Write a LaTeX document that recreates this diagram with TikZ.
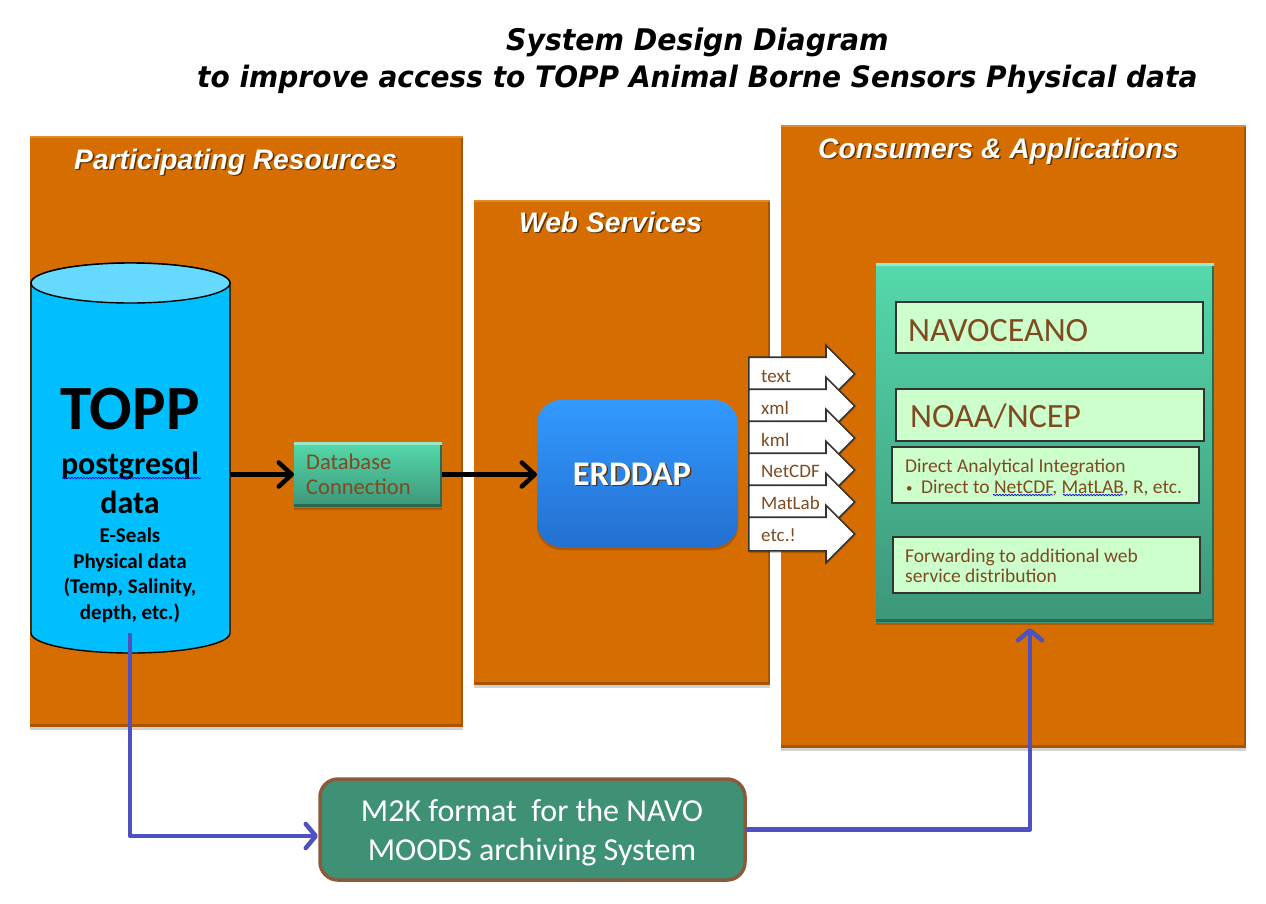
\documentclass[tikz,border=0pt]{standalone}
\usepackage{fontspec}
\setmainfont{Carlito}
\newfontfamily\headf{Liberation Sans}
\newfontfamily\titlef[FakeStretch=0.95]{DejaVu Sans}
\usetikzlibrary{shapes.arrows,shadows,arrows.meta,decorations.pathmorphing,calc}
\definecolor{orangepanel}{HTML}{D66D00}
\definecolor{txtbrown}{HTML}{7F4A20}
\definecolor{linkblue}{HTML}{4F51C0}
\definecolor{greentop}{HTML}{55D9AB}
\definecolor{greenbot}{HTML}{3D9679}
\definecolor{bluetop}{HTML}{3399FF}
\definecolor{bluebot}{HTML}{2370D0}
\definecolor{mfill}{HTML}{3F9175}
\definecolor{mdraw}{HTML}{8B5A3C}
\definecolor{palegreen}{HTML}{CCFFCC}
\definecolor{cylbody}{HTML}{00BFFF}
\definecolor{cyltop}{HTML}{66D9FF}
\newcommand{\shtext}[1]{\leavevmode\rlap{\raisebox{-1.5pt}{\hspace{1.5pt}\textcolor{black!55!orangepanel}{#1}}}\textcolor{white}{#1}}
\tikzset{
  box/.style={anchor=north west,inner sep=0pt,outer sep=0pt},
  softshadow/.style={drop shadow={shadow xshift=0pt,shadow yshift=-3pt,opacity=.18,fill=black}},
  panel/.style={box,fill=orangepanel,softshadow,path picture={
    \fill[black!22!orangepanel] ([yshift=3pt]path picture bounding box.south west) rectangle (path picture bounding box.south east);
    \fill[black!22!orangepanel] ([xshift=-2pt]path picture bounding box.south east) rectangle (path picture bounding box.north east);
    \fill[orangepanel!80!white] (path picture bounding box.north west) rectangle ([yshift=-2pt]path picture bounding box.north east);
  }},
  greenpanel/.style={box,top color=greentop,bottom color=greenbot,softshadow,path picture={
    \fill[greenbot!70!black] ([yshift=3pt]path picture bounding box.south west) rectangle (path picture bounding box.south east);
    \fill[greenbot!70!black] ([xshift=-2pt]path picture bounding box.south east) rectangle (path picture bounding box.north east);
    \fill[greentop!60!white] (path picture bounding box.north west) rectangle ([yshift=-3pt]path picture bounding box.north east);
  }},
  whitebox/.style={box,fill=palegreen,draw=black!80,line width=1.6pt},
  heading/.style={anchor=base west,inner sep=0pt,font=\headf\bfseries\itshape\fontsize{28.2}{30}\selectfont},
  titletext/.style={anchor=base west,inner sep=0pt,font=\titlef\bfseries\itshape\fontsize{29.5}{32}\selectfont},
  cylshape/.style={draw=black,line width=1.4pt},
  cyltext/.style={anchor=base,inner sep=0pt,font=\bfseries},
  brown/.style={anchor=base west,inner sep=0pt,text=txtbrown},
  fmtarrow/.style={single arrow,draw=black!80,fill=white,line width=1.6pt,inner sep=0pt,anchor=west,
    text height=16pt,text depth=16pt,
    minimum height=106pt,minimum width=56pt,single arrow head extend=12pt,single arrow tip angle=90,
    drop shadow={shadow xshift=0pt,shadow yshift=-2pt,opacity=.2,fill=black}},
  fmttext/.style={brown,font=\fontsize{19}{20}\selectfont},
  blacklink/.style={line width=4.5pt,draw=black,-{Straight Barb[length=13pt,width=24pt,line width=4.5pt,round]}},
  bluelink/.style={line width=4.5pt,draw=linkblue,line join=round,-{Straight Barb[length=10pt,width=24pt,line width=4.5pt,round]}},
  spell/.style={draw=blue!85!black,line width=.7pt,decorate,decoration={snake,amplitude=.7pt,segment length=3pt}}
}
\begin{document}
\begin{tikzpicture}[x=1pt,y=-1pt]
\useasboundingbox (0,0) rectangle (1266,903);
% title
\node[titletext,font=\titlef\bfseries\itshape\fontsize{29.8}{32}\selectfont] (title1) at (506,50) {System Design Diagram};
\node[titletext] (title2) at (197,87) {to improve access to TOPP Animal Borne Sensors Physical data};
% panels
\node[panel,minimum width=433pt,minimum height=591pt] (left) at (30,136) {};
\node[panel,minimum width=296pt,minimum height=485pt] (mid) at (474,200) {};
\node[panel,minimum width=465pt,minimum height=623pt] (right) at (781,125) {};
\node[heading] (h1) at (74,169) {\shtext{Participating Resources}};
\node[heading] (h2) at (519,232) {\shtext{Web Services}};
\node[heading] (h3) at (818,158) {\shtext{Consumers \& Applications}};
% cylinder
\node[box,minimum width=199pt,minimum height=390pt] (cyl) at (31,263) {};
\draw[cylshape,fill=cylbody] (31,283) -- (31,633) arc[start angle=180,end angle=360,x radius=99.5pt,y radius=20pt] -- (230,283) arc[start angle=0,end angle=180,x radius=99.5pt,y radius=20pt] -- cycle;
\draw[cylshape,fill=cyltop] (130.5,283) ellipse[x radius=99.5pt,y radius=20pt];
\coordinate (cylout) at (130,633);
\node[cyltext,font=\bfseries\fontsize{63}{63}\selectfont] (topp) at (130,429) {TOPP};
\node[cyltext,font=\bfseries\fontsize{32}{32}\selectfont] (pg) at (130,474) {postgresql};
\node[cyltext,font=\bfseries\fontsize{32}{32}\selectfont] (data) at (130,513) {data};
\node[cyltext,font=\bfseries\fontsize{21}{21}\selectfont] (l1) at (130,542) {E-Seals};
\node[cyltext,font=\bfseries\fontsize{21}{21}\selectfont] (l2) at (130,568) {Physical data};
\node[cyltext,font=\bfseries\fontsize{21}{21}\selectfont] (l3) at (130,593) {(Temp, Salinity,};
\node[cyltext,font=\bfseries\fontsize{21}{21}\selectfont] (l4) at (130,619) {depth, etc.)};
\draw[spell] (62,478) -- (201,478);
% database connection
\node[greenpanel,minimum width=148pt,minimum height=65pt] (db) at (294,442) {};
\node[brown,font=\fontsize{22.5}{24}\selectfont] (dbt1) at (306,469) {Database};
\node[brown,font=\fontsize{22.5}{24}\selectfont] (dbt2) at (306,494) {Connection};
% erddap
\node[box,rounded corners=24pt,top color=bluetop,bottom color=bluebot,softshadow,minimum width=201pt,minimum height=147pt] (erd) at (537,400) {};
\node[anchor=base,inner sep=0pt,font=\bfseries\fontsize{34.5}{35}\selectfont] (erdt) at (632,485) {\shtext{ERDDAP}};
% links
\draw[blacklink] (db.west -| cyl.east) -- (db.west);
\draw[blacklink] (db.east) -- (db.east -| erd.west);
% consumers
\node[greenpanel,minimum width=338pt,minimum height=359pt] (cons) at (876,263) {};
\node[whitebox,minimum width=307pt,minimum height=51pt] (b1) at (896,302) {};
\node[whitebox,minimum width=308pt,minimum height=52pt] (b2) at (896,389) {};
\node[whitebox,minimum width=307pt,minimum height=56pt] (b3) at (892,447) {};
\node[whitebox,minimum width=307pt,minimum height=56pt] (b4) at (893,537) {};
\node[brown,font=\fontsize{34}{34}\selectfont] (b1t) at (908,341) {NAVOCEANO};
\node[brown,font=\fontsize{34}{34}\selectfont] (b2t) at (910,427) {NOAA/NCEP};
\node[brown,font=\fontsize{19.5}{20}\selectfont] (b3t) at (905,472) {Direct Analytical Integration};
\node[brown,font=\fontsize{13}{13}\selectfont] (b3b) at (906,492) {•};
\node[brown,font=\fontsize{19.5}{20}\selectfont] (b3u) at (921,493) {Direct to NetCDF, MatLAB, R, etc.};
\node[brown,font=\fontsize{19.5}{20}\selectfont] (b4t) at (905,562) {Forwarding to additional web};
\node[brown,font=\fontsize{19.5}{20}\selectfont] (b4u) at (905,582) {service distribution};
\draw[spell] (993,495) -- (1053,495);
\draw[spell] (1063,495) -- (1123,495);
% format arrows
\node[fmtarrow] (a1) at (748,374) {};
\node[fmtarrow] (a2) at (748,406) {};
\node[fmtarrow] (a3) at (748,438) {};
\node[fmtarrow] (a4) at (748,470) {};
\node[fmtarrow] (a5) at (748,502) {};
\node[fmtarrow] (a6) at (748,534) {};
\node[fmttext] (a1t) at (761,382) {text};
\node[fmttext] (a2t) at (761,414) {xml};
\node[fmttext] (a3t) at (761,446) {kml};
\node[fmttext] (a4t) at (761,477) {NetCDF};
\node[fmttext] (a5t) at (761,509) {MatLab};
\node[fmttext] (a6t) at (761,541) {etc.!};
% m2k
\node[box,rounded corners=18pt,fill=mfill,draw=mdraw,line width=3.5pt,minimum width=425pt,minimum height=101pt] (m2k) at (320,779) {};
\node[anchor=base,inner sep=0pt,text=white,font=\fontsize{32}{32}\selectfont] (m1) at (532,821) {M2K format\ \ for the NAVO};
\node[anchor=base,inner sep=0pt,text=white,font=\fontsize{32}{32}\selectfont] (m2) at (532,860) {MOODS archiving System};
\coordinate (m2kin) at (318,836);
\coordinate (consin) at (1030,628);
\draw[bluelink] (cylout) -- (cylout |- m2kin) -- (m2kin);
\draw[bluelink] (m2k.east) -- (m2k.east -| consin) -- (consin);
\end{tikzpicture}
\end{document}
